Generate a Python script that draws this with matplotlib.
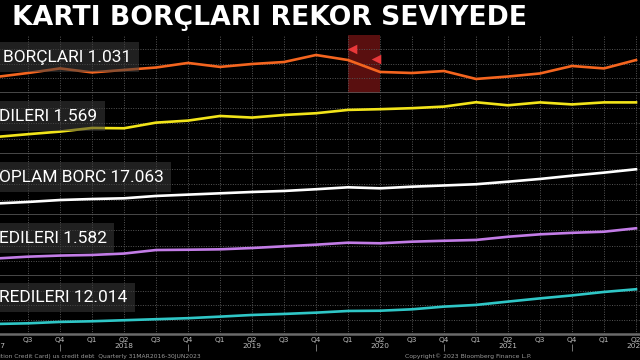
import matplotlib
matplotlib.use("Agg")
import matplotlib.pyplot as plt
import matplotlib.transforms as mtransforms
import numpy as np

# ---- data (quarterly, Q2 2017 .. Q2 2022) ----
quarters = ["Q2", "Q3", "Q4", "Q1", "Q2", "Q3", "Q4", "Q1", "Q2", "Q3", "Q4",
            "Q1", "Q2", "Q3", "Q4", "Q1", "Q2", "Q3", "Q4", "Q1", "Q2"]
years = ["2017", "", "", "", "2018", "", "", "", "2019", "", "",
         "", "2020", "", "", "", "2021", "", "", "", "2022"]

credit_card = [0.783, 0.809, 0.839, 0.813, 0.829, 0.845, 0.875, 0.849, 0.868, 0.881, 0.927,
               0.894, 0.816, 0.809, 0.822, 0.770, 0.786, 0.806, 0.855, 0.839, 0.894]
student = [1.340, 1.359, 1.377, 1.402, 1.400, 1.439, 1.453, 1.485, 1.474, 1.492, 1.504,
           1.527, 1.532, 1.539, 1.550, 1.580, 1.559, 1.579, 1.565, 1.579, 1.579]
total = [12.79, 12.94, 13.13, 13.23, 13.30, 13.53, 13.66, 13.79, 13.92, 14.02, 14.19,
         14.38, 14.28, 14.44, 14.56, 14.68, 14.93, 15.20, 15.52, 15.82, 16.15]
auto = [1.190, 1.208, 1.219, 1.225, 1.239, 1.274, 1.277, 1.281, 1.294, 1.311, 1.327,
        1.347, 1.341, 1.357, 1.366, 1.374, 1.406, 1.430, 1.445, 1.456, 1.490]
mortgage = [8.69, 8.74, 8.85, 8.90, 8.98, 9.06, 9.14, 9.26, 9.39, 9.47, 9.57,
            9.70, 9.72, 9.83, 10.04, 10.17, 10.43, 10.68, 10.91, 11.18, 11.39]

series = [credit_card, student, total, auto, mortgage]
labels = ["BORÇLARI 1.031", "DILERI 1.569", "OPLAM BORC 17.063", "EDILERI 1.582", "REDILERI 12.014"]
colors = ["#f4651f", "#f2e41a", "#ffffff", "#c27ce6", "#2fc6c6"]
ylims = [(0.678, 1.058), (1.222, 1.644), (11.66, 17.65), (1.016, 1.622), (7.91, 12.42)]

title = "KARTI BORÇLARI REKOR SEVIYEDE"
footer_left = "ition Credit Card) us credit debt  Quarterly 31MAR2016-30JUN2023"
footer_right = "Copyright© 2023 Bloomberg Finance L.P."

# highlighted period (Q1 2020 .. Q2 2020) in top panel
band = (11, 12)
event_x = [11.13, 11.87]
event_y = [0.968, 0.902]

# ---- layout ----
W, H = 640, 360
fig = plt.figure(figsize=(6.4, 3.6), dpi=100, facecolor="black")
tops = [35, 93, 154, 215, 276]
bots = [93, 154, 215, 276, 334]
x = np.arange(len(quarters))
left_px, width_px = -8, 648

label_family = ["Liberation Sans Narrow", "Roboto", "DejaVu Sans"]

axes = []
for k in range(5):
    ax = fig.add_axes([left_px / W, 1 - bots[k] / H, width_px / W, (bots[k] - tops[k]) / H])
    ax.set_facecolor("black")
    ax.set_xlim(-0.125, 20.125)
    lo, hi = ylims[k]
    ax.set_ylim(lo, hi)
    ax.set_yticks(np.linspace(lo, hi, 5)[1:-1])
    ax.set_xticks(x)
    ax.grid(True, color="#555555", linestyle=(0, (1, 1.5)), linewidth=0.7)
    ax.tick_params(length=0, labelleft=False, labelbottom=False)
    for s in ["top", "left", "right"]:
        ax.spines[s].set_visible(False)
    ax.spines["bottom"].set_color("#5e5e5e")
    ax.spines["bottom"].set_linewidth(1.8)
    ax.plot(x, series[k], color=colors[k], lw=1.9, zorder=3, solid_joinstyle="miter")
    ax.text(0.0125 + (3 if k == 0 else -1) / width_px, 0.62 if k != 4 else 0.63, labels[k],
            transform=ax.transAxes, color="white", fontsize=12.5, family=label_family,
            va="center", ha="left", zorder=5,
            bbox=dict(boxstyle="square,pad=0.42", fc="#3c3c3c", ec="none", alpha=0.55))
    axes.append(ax)

# band and markers in top panel
axes[0].axvspan(band[0], band[1], color="#701414", alpha=0.8, zorder=1, lw=0)
axes[0].scatter(event_x, event_y, marker="<", s=48, color="#e8383a", zorder=4, lw=0)

# bottom axis labels
ax = axes[-1]
ax.tick_params(labelbottom=True, labelcolor="#bdbdbd", labelsize=5.3, pad=2.5)
ax.set_xticklabels([q + ("\n" + y if y else "") for q, y in zip(quarters, years)],
                   linespacing=0.95)
ax.spines["bottom"].set_color("#6a6a6a")

# year separators under Q4 labels
sep_x = [xi for xi, q in zip(x, quarters) if q == "Q4"]
trans = mtransforms.blended_transform_factory(ax.transData, ax.transAxes)
ax.vlines(sep_x, -0.17, -0.29, transform=trans, color="#888888", lw=0.6, clip_on=False)

fig.text(12 / W, 1 - 18 / H, title, color="white", fontsize=19.2, fontweight="bold",
         family="DejaVu Sans", va="center", ha="left")
fig.text(-1 / W, 1 - 356.5 / H, footer_left, color="#9a9a9a", fontsize=4.3, va="center", ha="left")
fig.text(405 / W, 1 - 356.5 / H, footer_right, color="#9a9a9a", fontsize=4.4, va="center", ha="left")

fig.savefig("out.png", dpi=100, facecolor="black")
